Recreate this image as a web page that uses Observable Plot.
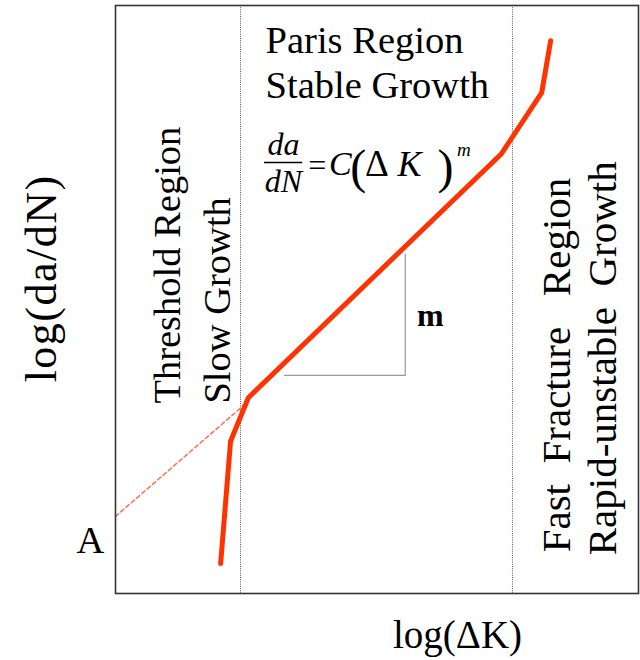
<!DOCTYPE html>
<html>
<head>
<meta charset="utf-8">
<script src="https://cdn.jsdelivr.net/npm/d3@7"></script>
<script src="https://cdn.jsdelivr.net/npm/@observablehq/plot@0.6"></script>
<style>
  html, body { margin: 0; padding: 0; background: #fff; }
  #chart svg { display: block; }
</style>
</head>
<body>
<div id="chart"></div>
<script>
// Fatigue crack growth curve (schematic), arbitrary log units 0..10
const curveX = [2.01, 2.20, 2.54, 7.38, 8.15, 8.32];
const curveY = [0.51, 2.59, 3.33, 7.48, 8.52, 9.40];
// Paris-law extrapolation to the intercept A
const extrapX = [0, 2.49];
const extrapY = [1.31, 3.23];
// Region boundaries (log ΔK)
const regionBounds = [2.39, 7.59];
// Slope triangle
const slopeX = [3.23, 5.54, 5.54];
const slopeY = [3.71, 3.71, 5.77];

// Labels
const regionLabels = ["Paris Region", "Stable Growth"];
const sideLabels = ["Threshold Region", "Slow Growth", "Fast  Fracture   Region", "Rapid-unstable  Growth"];
const yLabel = "log(da/dN)";
const xLabel = "log(ΔK)";
const interceptLabel = "A";
const slopeLabel = "m";

const curve = curveX.map((x, i) => ({x, y: curveY[i]}));
const extrap = extrapX.map((x, i) => ({x, y: extrapY[i]}));
const slope = slopeX.map((x, i) => ({x, y: slopeY[i]}));

const serif = "'Liberation Serif', 'Times New Roman', serif";
const txt = (t, x, y, o = {}) => Plot.text([t], {x: () => x, y: () => y, text: d => d,
  fontFamily: serif, fill: "#000", fontSize: 38.5, ...o});

const chart = Plot.plot({
  width: 640,
  height: 660,
  marginLeft: 115,
  marginRight: 2,
  marginTop: 5,
  marginBottom: 67,
  x: {domain: [0, 10], axis: null},
  y: {domain: [0, 10], axis: null},
  style: {background: "#fff", fontFamily: serif},
  marks: [
    Plot.ruleX(regionBounds, {stroke: "#555", strokeWidth: 1, strokeDasharray: "1,1.2"}),
    Plot.line(extrap, {x: "x", y: "y", stroke: "#FF7050", strokeWidth: 1.5, strokeDasharray: "4,3"}),
    Plot.line(slope, {x: "x", y: "y", stroke: "#999", strokeWidth: 1.2}),
    Plot.line(curve, {x: "x", y: "y", stroke: "#FF3300", strokeWidth: 5, strokeLinejoin: "miter"}),
    Plot.frame({stroke: "#333", strokeWidth: 1.6}),
    // Paris region title
    txt(regionLabels[0], 2.87, 9.40, {textAnchor: "start"}),
    txt(regionLabels[1], 2.87, 8.64, {textAnchor: "start"}),
    // formula da/dN = C(ΔK)^m
    txt("da", 3.21, 7.64, {fontStyle: "italic", fontSize: 32}),
    Plot.ruleY([7.33], {x1: 2.85, x2: 3.58, stroke: "#000", strokeWidth: 1.3}),
    txt("dN", 3.21, 7.00, {fontStyle: "italic", fontSize: 32}),
    txt("=", 3.86, 7.27, {fontSize: 32}),
    txt("C", 4.30, 7.30, {fontStyle: "italic", fontSize: 34}),
    txt("(", 4.64, 7.24, {fontSize: 48, fontWeight: 300}),
    txt("Δ", 5.00, 7.30, {fontSize: 37}),
    txt("K", 5.62, 7.30, {fontStyle: "italic", fontSize: 36}),
    txt(")", 6.31, 7.24, {fontSize: 48, fontWeight: 300}),
    txt("m", 6.66, 7.55, {fontStyle: "italic", fontSize: 19}),
    // side region labels (rotated)
    txt(sideLabels[0], 0.99, 3.23, {rotate: -90, textAnchor: "start"}),
    txt(sideLabels[1], 1.95, 3.23, {rotate: -90, textAnchor: "start"}),
    txt(sideLabels[2], 8.43, 0.70, {rotate: -90, textAnchor: "start", fontSize: 41}),
    txt(sideLabels[3], 9.31, 0.65, {rotate: -90, textAnchor: "start", fontSize: 41}),
    // slope label
    txt(slopeLabel, 6.02, 4.73, {fontWeight: "bold", fontSize: 32}),
    // axis-like labels
    txt(yLabel, -1.40, 5.36, {rotate: -90, fontSize: 44}),
    txt(xLabel, 6.54, -0.71, {fontSize: 39}),
    txt(interceptLabel, -0.48, 0.90)
  ]
});
// slightly widen the letter spacing of the y-axis title as in the reference
d3.select(chart).selectAll("text").filter(function() { return this.textContent === yLabel; })
  .style("letter-spacing", "1.5px");
document.getElementById("chart").appendChild(chart);
</script>
</body>
</html>
